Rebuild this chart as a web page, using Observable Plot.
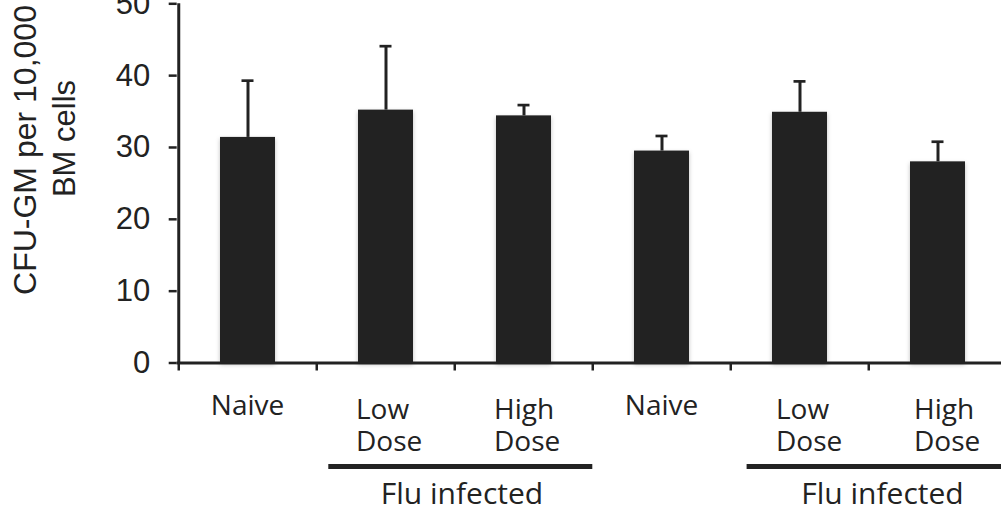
<!DOCTYPE html>
<html><head><meta charset="utf-8">
<script src="https://cdn.jsdelivr.net/npm/d3@7"></script>
<script src="https://cdn.jsdelivr.net/npm/@observablehq/plot@0.6"></script>
<style>
html,body{margin:0;padding:0;background:#fff;overflow:hidden}
#chart g[aria-label="bar"] rect{filter:drop-shadow(0px 2px 2px rgba(0,0,0,0.25))}
</style></head><body><div id="chart"></div>
<script>
// ---- data ----
const ids = ["naive1", "low1", "high1", "naive2", "low2", "high2"];
const xLabels = ["Naive", "Low\nDose", "High\nDose", "Naive", "Low\nDose", "High\nDose"];
const means = [31.4, 35.2, 34.4, 29.5, 34.9, 28.0];
const errors = [7.9, 8.9, 1.5, 2.1, 4.3, 2.8];
const yTicks = [0, 10, 20, 30, 40, 50];
const yTitleLines = ["CFU-GM per 10,000", "BM cells"];
const groupLabel = "Flu infected";
const group1 = ["low1", "high1"];
const group2 = ["low2", "high2"];

const data = ids.map((id, i) => ({id, label: xLabels[i], mean: means[i], upper: means[i] + errors[i]}));

// ---- layout ----
const W = 1001, H = 514;
const mL = 176.7, mT = 3.3, mB = 151.5;
const xRange = [176.7, 1007.7];
const step = (xRange[1] - xRange[0]) / ids.length;
const ink = "#222";
const sans = "Liberation Sans, Arial, Helvetica, sans-serif";
const labelFont = "Open Sans, Noto Sans, sans-serif";
const frameMidY = (mT + (H - mB)) / 2;

const single = data.filter(d => !d.label.includes("\n"));
const multi1 = data.filter(d => group1.includes(d.id));
const multi2 = data.filter(d => group2.includes(d.id));

const chart = Plot.plot({
  width: W, height: H,
  marginLeft: mL, marginTop: mT, marginBottom: mB, marginRight: 0,
  style: {fontFamily: sans, color: ink, background: "#fff", overflow: "visible"},
  x: {domain: ids, range: xRange, padding: 0.6, paddingOuter: 0.3, axis: null},
  y: {domain: [0, 50], axis: null},
  marks: [
    Plot.barY(data, {x: "id", y: "mean", fill: ink}),
    Plot.ruleX(data, {x: "id", y1: "mean", y2: "upper", stroke: ink, strokeWidth: 3}),
    Plot.tickY(data, {x: "id", y: "upper", stroke: ink, strokeWidth: 2.7, insetLeft: 21.5, insetRight: 21.5}),
    // axes
    Plot.axisY({ticks: yTicks, tickSize: 8, tickPadding: 19, fontSize: 31, fontFamily: sans, strokeWidth: 2.5, stroke: ink, fill: ink, label: null}),
    Plot.axisX({ticks: ids, tickSize: 8, dx: -step / 2, tickFormat: () => "", strokeWidth: 2.5, stroke: ink, label: null}),
    Plot.ruleY([0], {stroke: ink, strokeWidth: 3}),
    Plot.ruleX([ids[0]], {x: d => d, dx: -step / 2, y1: 0, y2: 50, stroke: ink, strokeWidth: 3}),
    // x labels
    Plot.text(single, {x: "id", text: "label", frameAnchor: "bottom", lineAnchor: "top", dy: 32, dx: -0.5,
      fontFamily: labelFont, fontSize: 28, fill: ink}),
    Plot.text(multi1, {x: "id", text: "label", frameAnchor: "bottom", lineAnchor: "top", textAnchor: "start",
      dx: -30, dy: 33.5, lineHeight: 1.14, fontFamily: labelFont, fontSize: 28, fill: ink}),
    Plot.text(multi2, {x: "id", text: "label", frameAnchor: "bottom", lineAnchor: "top", textAnchor: "start",
      dx: -24, dy: 33.5, lineHeight: 1.14, fontFamily: labelFont, fontSize: 28, fill: ink}),
    // group underline + label
    Plot.ruleY([group1], {x1: d => d[0], x2: d => d[1], y: () => 0, dy: 103.5, insetLeft: -29.7, insetRight: -41.3, stroke: ink, strokeWidth: 5}),
    Plot.ruleY([group2], {x1: d => d[0], x2: d => d[1], y: () => 0, dy: 103.5, insetLeft: -25.4, insetRight: -41.3, stroke: ink, strokeWidth: 5}),
    Plot.text([groupLabel], {x: () => group1[1], text: d => d, frameAnchor: "bottom", lineAnchor: "top", dy: 120, dx: -62,
      fontFamily: labelFont, fontSize: 30, fill: ink}),
    Plot.text([groupLabel], {x: () => group2[1], text: d => d, frameAnchor: "bottom", lineAnchor: "top", dy: 120, dx: -55.5,
      fontFamily: labelFont, fontSize: 30, fill: ink}),
    // y title
    Plot.text([yTitleLines[0]], {text: d => d, frameAnchor: "left", textAnchor: "middle", rotate: -90, lineAnchor: "bottom",
      dx: 35 - mL, dy: 149.5 - frameMidY, fontFamily: sans, fontSize: 32, fill: ink}),
    Plot.text([yTitleLines[1]], {text: d => d, frameAnchor: "left", textAnchor: "middle", rotate: -90, lineAnchor: "bottom",
      dx: 74 - mL, dy: 138 - frameMidY, fontFamily: sans, fontSize: 31, fill: ink})
  ]
});
document.getElementById("chart").appendChild(chart);
</script>
</body></html>
